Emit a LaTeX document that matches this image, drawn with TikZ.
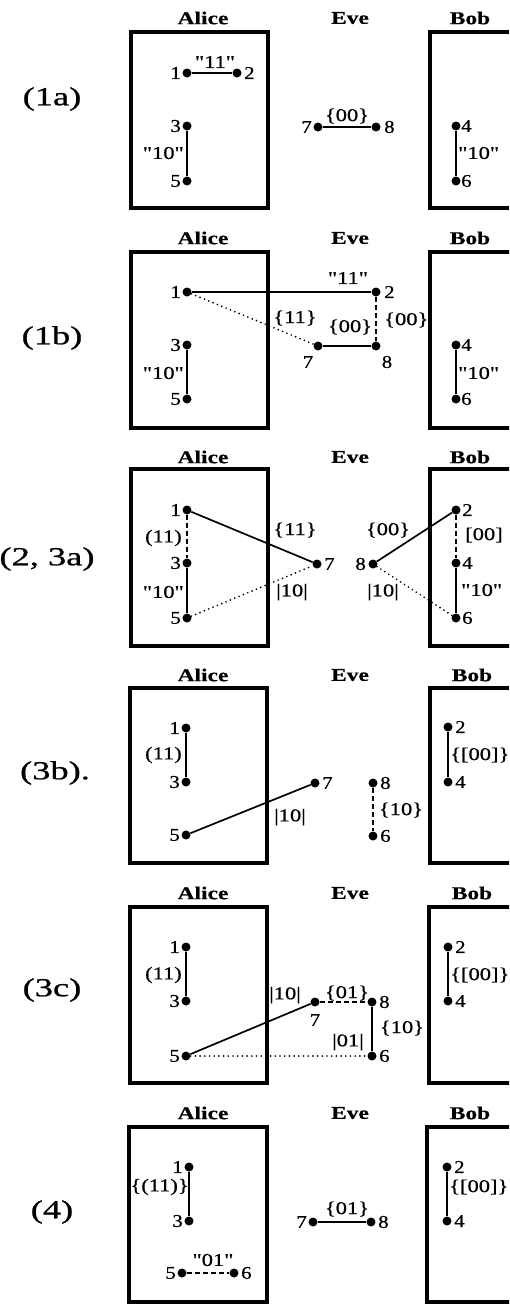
\documentclass[tikz,border=0pt]{standalone}
\usepackage{fontspec}
\setmainfont{Liberation Serif}
\newfontfamily\plainserif{Liberation Serif}[FakeBold=0.7]
\newfontfamily\boldserif{Liberation Serif Bold}[FakeBold=0.5]
\begin{document}
\begin{tikzpicture}[x=1pt,y=-1pt,
  frame/.style={line width=3.8pt},
  dot/.style={circle,fill=black,inner sep=0pt,minimum size=9pt},
  num/.style={font=\plainserif\fontsize{18}{18}\selectfont,inner sep=0pt,xscale=1.15},
  lbl/.style={font=\plainserif\fontsize{18}{18}\selectfont,inner sep=0pt,xscale=1.25},
  who/.style={font=\boldserif\fontsize{18}{18}\selectfont,inner sep=0pt,xscale=1.3},
  panel/.style={font=\plainserif\fontsize{26}{26}\selectfont,inner sep=0pt,xscale=1.4},
  solidlink/.style={line width=1.7pt},
  thinlink/.style={line width=1.3pt},
  dashlink/.style={line width=1.5pt,dash pattern=on 5pt off 3pt},
  dotlink/.style={line width=1.9pt,line cap=round,dash pattern=on 0pt off 4.7pt}]
\useasboundingbox (0,0) rectangle (509,1304);
\clip (0,0) rectangle (509,1304);

% ---------------- Panel (1a) ----------------
\node[who] (aA) at (203,18) {Alice};
\node[who] (aE) at (350,18) {Eve};
\node[who] (aB) at (470,18) {Bob};
\draw[frame] (131,32) rectangle (268,208);
\draw[frame] (430,32) rectangle (540,208);
\node[panel] (aP) at (52,99) {(1a)};
\node[dot] (a1) at (187,73) {};
\node[dot] (a2) at (237,73) {};
\node[dot] (a3) at (187,126) {};
\node[dot] (a5) at (187,181) {};
\node[dot] (a7) at (318,127) {};
\node[dot] (a8) at (376,127) {};
\node[dot] (a4) at (456,126) {};
\node[dot] (a6) at (456,181) {};
\node[num,anchor=east] (na1) at (181,73) {1};
\node[num,anchor=west] (na2) at (244,73) {2};
\node[num,anchor=east] (na3) at (181,126) {3};
\node[num,anchor=east] (na5) at (181,181) {5};
\node[num,anchor=east] (na7) at (312,127) {7};
\node[num,anchor=west] (na8) at (384,127) {8};
\node[num,anchor=west] (na4) at (461,126) {4};
\node[num,anchor=west] (na6) at (461,181) {6};
\node[lbl] (la12) at (215,62) {"11"};
\node[lbl,anchor=east] (la35) at (184,153) {"10"};
\node[lbl] (la78) at (347,116) {\{00\}};
\node[lbl,anchor=west] (la46) at (458,153) {"10"};
\draw[solidlink] (a1) -- (a2);
\draw[solidlink] (a3) -- (a5);
\draw[solidlink] (a7) -- (a8);
\draw[solidlink] (a4) -- (a6);

% ---------------- Panel (1b) ----------------
\node[who] (bA) at (203,238) {Alice};
\node[who] (bE) at (350,238) {Eve};
\node[who] (bB) at (470,238) {Bob};
\draw[frame] (131,252) rectangle (268,428);
\draw[frame] (430,252) rectangle (540,428);
\node[panel] (bP) at (52,338) {(1b)};
\node[dot] (b1) at (187,292) {};
\node[dot] (b2) at (376,292) {};
\node[dot] (b7) at (318,346) {};
\node[dot] (b8) at (376,346) {};
\node[dot] (b3) at (187,345) {};
\node[dot] (b5) at (187,399) {};
\node[dot] (b4) at (456,345) {};
\node[dot] (b6) at (456,399) {};
\node[num,anchor=east] (nb1) at (181,292) {1};
\node[num,anchor=west] (nb2) at (384,292) {2};
\node[num] (nb7) at (308,362) {7};
\node[num] (nb8) at (387,362) {8};
\node[num,anchor=east] (nb3) at (181,345) {3};
\node[num,anchor=east] (nb5) at (181,399) {5};
\node[num,anchor=west] (nb4) at (461,345) {4};
\node[num,anchor=west] (nb6) at (461,399) {6};
\node[lbl] (lb12) at (348,278) {"11"};
\node[lbl] (lb17) at (295,318) {\{11\}};
\node[lbl] (lb78) at (350,327) {\{00\}};
\node[lbl,anchor=west] (lb28) at (384,320) {\{00\}};
\node[lbl,anchor=east] (lb35) at (184,373) {"10"};
\node[lbl,anchor=west] (lb46) at (458,373) {"10"};
\draw[solidlink] (b1) -- (b2);
\draw[dotlink] (b1) -- (b7);
\draw[solidlink] (b7) -- (b8);
\draw[dashlink] (b2) -- (b8);
\draw[solidlink] (b3) -- (b5);
\draw[solidlink] (b4) -- (b6);

% ---------------- Panel (2, 3a) ----------------
\node[who] (cA) at (203,457) {Alice};
\node[who] (cE) at (350,457) {Eve};
\node[who] (cB) at (470,457) {Bob};
\draw[frame] (131,469) rectangle (268,646);
\draw[frame] (430,469) rectangle (540,646);
\node[panel] (cP) at (47,559) {(2, 3a)};
\node[dot] (c1) at (187,510) {};
\node[dot] (c3) at (187,563) {};
\node[dot] (c5) at (187,618) {};
\node[dot] (c7) at (317,564) {};
\node[dot] (c8) at (373,564) {};
\node[dot] (c2) at (456,510) {};
\node[dot] (c4) at (456,563) {};
\node[dot] (c6) at (456,618) {};
\node[num,anchor=east] (nc1) at (181,510) {1};
\node[num,anchor=east] (nc3) at (181,563) {3};
\node[num,anchor=east] (nc5) at (181,618) {5};
\node[num,anchor=west] (nc7) at (324,564) {7};
\node[num,anchor=east] (nc8) at (366,564) {8};
\node[num,anchor=west] (nc2) at (462,510) {2};
\node[num,anchor=west] (nc4) at (462,563) {4};
\node[num,anchor=west] (nc6) at (462,618) {6};
\node[lbl,anchor=east] (lc13) at (182,538) {(11)};
\node[lbl,anchor=east] (lc35) at (184,592) {"10"};
\node[lbl] (lc17) at (295,530) {\{11\}};
\node[lbl] (lc57) at (292,592) {|10|};
\node[lbl] (lc82) at (388,530) {\{00\}};
\node[lbl] (lc86) at (383,592) {|10|};
\node[lbl,anchor=west] (lc24) at (465,535) {[00]};
\node[lbl,anchor=west] (lc46) at (461,590) {"10"};
\draw[dashlink] (c1) -- (c3);
\draw[solidlink] (c3) -- (c5);
\draw[solidlink] (c1) -- (c7);
\draw[dotlink] (c5) -- (c7);
\draw[solidlink] (c8) -- (c2);
\draw[dotlink] (c8) -- (c6);
\draw[dashlink] (c2) -- (c4);
\draw[solidlink] (c4) -- (c6);

% ---------------- Panel (3b) ----------------
\node[who] (dA) at (203,675) {Alice};
\node[who] (dE) at (350,675) {Eve};
\node[who] (dB) at (472,675) {Bob};
\draw[frame] (130,688) rectangle (267,863);
\draw[frame] (430,688) rectangle (540,863);
\node[panel] (dP) at (55,773) {(3b).};
\node[dot] (d1) at (186,728) {};
\node[dot] (d3) at (186,782) {};
\node[dot] (d5) at (186,835) {};
\node[dot] (d7) at (315,783) {};
\node[dot] (d8) at (373,783) {};
\node[dot] (d6) at (373,836) {};
\node[dot] (d2) at (448,727) {};
\node[dot] (d4) at (448,782) {};
\node[num,anchor=east] (nd1) at (180,728) {1};
\node[num,anchor=east] (nd3) at (180,782) {3};
\node[num,anchor=east] (nd5) at (180,835) {5};
\node[num,anchor=west] (nd7) at (322,783) {7};
\node[num,anchor=west] (nd8) at (380,783) {8};
\node[num,anchor=west] (nd6) at (380,836) {6};
\node[num,anchor=west] (nd2) at (455,727) {2};
\node[num,anchor=west] (nd4) at (455,782) {4};
\node[lbl,anchor=east] (ld13) at (182,755) {(11)};
\node[lbl] (ld57) at (290,817) {|10|};
\node[lbl] (ld86) at (401,810) {\{10\}};
\node[lbl,anchor=west] (ld24) at (450,755) {\{[00]\}};
\draw[thinlink] (d1) -- (d3);
\draw[solidlink] (d5) -- (d7);
\draw[dashlink] (d8) -- (d6);
\draw[solidlink] (d2) -- (d4);

% ---------------- Panel (3c) ----------------
\node[who] (eA) at (203,893) {Alice};
\node[who] (eE) at (350,893) {Eve};
\node[who] (eB) at (472,893) {Bob};
\draw[frame] (130,907) rectangle (267,1083);
\draw[frame] (429,907) rectangle (540,1083);
\node[panel] (eP) at (52,990) {(3c)};
\node[dot] (e1) at (186,947) {};
\node[dot] (e3) at (186,1001) {};
\node[dot] (e5) at (186,1056) {};
\node[dot] (e7) at (315,1002) {};
\node[dot] (e8) at (372,1002) {};
\node[dot] (e6) at (372,1056) {};
\node[dot] (e2) at (448,947) {};
\node[dot] (e4) at (448,1001) {};
\node[num,anchor=east] (ne1) at (180,947) {1};
\node[num,anchor=east] (ne3) at (180,1001) {3};
\node[num,anchor=east] (ne5) at (180,1056) {5};
\node[num] (ne7) at (315,1020) {7};
\node[num,anchor=west] (ne8) at (379,1002) {8};
\node[num,anchor=west] (ne6) at (379,1056) {6};
\node[num,anchor=west] (ne2) at (455,947) {2};
\node[num,anchor=west] (ne4) at (455,1001) {4};
\node[lbl,anchor=east] (le13) at (182,975) {(11)};
\node[lbl] (le57) at (285,995) {|10|};
\node[lbl] (le78) at (347,993) {\{01\}};
\node[lbl] (le86) at (402,1028) {\{10\}};
\node[lbl] (le56) at (348,1042) {|01|};
\node[lbl,anchor=west] (le24) at (450,975) {\{[00]\}};
\draw[solidlink] (e1) -- (e3);
\draw[solidlink] (e5) -- (e7);
\draw[dashlink] (e7) -- (e8);
\draw[solidlink] (e8) -- (e6);
\draw[dotlink] (e5) -- (e6);
\draw[solidlink] (e2) -- (e4);

% ---------------- Panel (4) ----------------
\node[who] (fA) at (203,1113) {Alice};
\node[who] (fE) at (350,1113) {Eve};
\node[who] (fB) at (470,1113) {Bob};
\draw[frame] (129,1127) rectangle (267,1302);
\draw[frame] (427,1127) rectangle (540,1302);
\node[panel] (fP) at (52,1212) {(4)};
\node[dot] (f1) at (189,1167) {};
\node[dot] (f3) at (189,1221) {};
\node[dot] (f5) at (182,1273) {};
\node[dot] (f6) at (234,1273) {};
\node[dot] (f7) at (313,1222) {};
\node[dot] (f8) at (371,1222) {};
\node[dot] (f2) at (447,1167) {};
\node[dot] (f4) at (447,1221) {};
\node[num,anchor=east] (nf1) at (183,1167) {1};
\node[num,anchor=east] (nf3) at (183,1221) {3};
\node[num,anchor=east] (nf5) at (176,1273) {5};
\node[num,anchor=west] (nf6) at (241,1273) {6};
\node[num,anchor=east] (nf7) at (307,1222) {7};
\node[num,anchor=west] (nf8) at (378,1222) {8};
\node[num,anchor=west] (nf2) at (454,1167) {2};
\node[num,anchor=west] (nf4) at (454,1221) {4};
\node[lbl,anchor=east] (lf13) at (189,1187) {\{(11)\}};
\node[lbl] (lf56) at (213,1260) {"01"};
\node[lbl] (lf78) at (347,1209) {\{01\}};
\node[lbl,anchor=west] (lf24) at (449,1187) {\{[00]\}};
\draw[solidlink] (f1) -- (f3);
\draw[dashlink] (f5) -- (f6);
\draw[solidlink] (f7) -- (f8);
\draw[solidlink] (f2) -- (f4);
\end{tikzpicture}
\end{document}
